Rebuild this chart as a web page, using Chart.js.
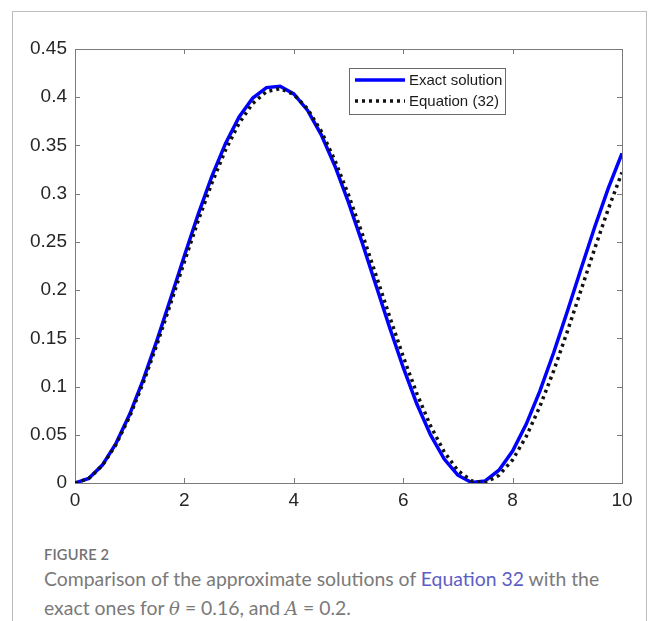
<!DOCTYPE html>
<html>
<head>
<meta charset="utf-8">
<script src="https://cdn.jsdelivr.net/npm/chart.js@4"></script>
<style>
  html, body { margin: 0; padding: 0; background: #fff; }
  body { width: 654px; height: 621px; position: relative; overflow: hidden; }
  .frame { position: absolute; left: 12px; top: 11px; width: 635px; height: 640px;
           border: 1px solid #bdbdbd; border-bottom: none; box-sizing: border-box; }
  #wrap { position: absolute; left: 0; top: 0; width: 654px; height: 530px; }
  .fig { position: absolute; left: 44px; top: 546px; font: 600 14.6px Lato, "Open Sans", sans-serif;
         color: #727272; letter-spacing: 0.2px; }
  .cap { position: absolute; left: 44px; font: 19.4px Lato, "Open Sans", sans-serif; color: #7a7a7a; white-space: nowrap; }
  .cap a { color: #5d5ec4; text-decoration: none; }
  .cap i { font-family: "DejaVu Serif", serif; font-size: 18px; }
</style>
</head>
<body>
<div class="frame"></div>
<div id="wrap"><canvas id="chart" width="654" height="530"></canvas></div>
<div class="fig">FIGURE 2</div>
<div class="cap" style="top:567px">Comparison of the approximate solutions of <a>Equation 32</a> with the</div>
<div class="cap" style="top:596px">exact ones for <i>θ</i> = 0.16, and <i>A</i> = 0.2.</div>

<script>
// time samples (x axis)
const tValues = [0, 0.25, 0.5, 0.75, 1, 1.25, 1.5, 1.75, 2, 2.25, 2.5, 2.75, 3, 3.25, 3.5, 3.75,
  4, 4.25, 4.5, 4.75, 5, 5.25, 5.5, 5.75, 6, 6.25, 6.5, 6.75, 7, 7.25, 7.5, 7.75,
  8, 8.25, 8.5, 8.75, 9, 9.25, 9.5, 9.75, 10];

// exact solution (blue)
const exactValues = [0, 0.0047, 0.0186, 0.0411, 0.0712, 0.1075, 0.1481, 0.1915, 0.2356, 0.2783,
  0.3176, 0.3519, 0.3795, 0.3992, 0.4100, 0.4114, 0.4035, 0.3866, 0.3613, 0.3290,
  0.2910, 0.2491, 0.2053, 0.1615, 0.1198, 0.0819, 0.0498, 0.0248, 0.0081, 0.0005,
  0.0022, 0.0133, 0.0332, 0.0611, 0.0955, 0.1350, 0.1778, 0.2218, 0.2652, 0.3058, 0.3418];

// Equation (32) approximation (black dotted)
const eq32Values = [0, 0.0046, 0.0181, 0.0399, 0.0690, 0.1043, 0.1439, 0.1863, 0.2295, 0.2716,
  0.3106, 0.3450, 0.3731, 0.3936, 0.4058, 0.4089, 0.4029, 0.3881, 0.3650, 0.3348,
  0.2987, 0.2586, 0.2160, 0.1728, 0.1311, 0.0926, 0.0592, 0.0322, 0.0129, 0.0022,
  0.0004, 0.0079, 0.0240, 0.0483, 0.0795, 0.1162, 0.1570, 0.1998, 0.2429, 0.2842, 0.3220];

const seriesLabels = ['Exact solution', 'Equation (32)'];
const xTicks = [0, 2, 4, 6, 8, 10];
const yTicks = [0, 0.05, 0.1, 0.15, 0.2, 0.25, 0.3, 0.35, 0.4, 0.45];

const axisColor = '#7a7a7a';
const tickFont = { family: '"Liberation Sans", Arial, sans-serif', size: 19 };

const toPoints = (ys) => tValues.map((t, i) => ({ x: t, y: ys[i] }));

// box around the axes with inward ticks on all four sides (matlab style)
const axesBox = {
  id: 'axesBox',
  beforeDatasetsDraw(chart) {
    const { ctx, chartArea: a, scales } = chart;
    ctx.save();
    ctx.strokeStyle = axisColor;
    ctx.lineWidth = 1;
    ctx.strokeRect(a.left + 0.5, a.top + 0.5, a.right - a.left, a.bottom - a.top);
    ctx.beginPath();
    const len = 5;
    scales.x.ticks.forEach(tk => {
      const px = Math.round(scales.x.getPixelForValue(tk.value)) + 0.5;
      ctx.moveTo(px, a.bottom); ctx.lineTo(px, a.bottom - len);
      ctx.moveTo(px, a.top); ctx.lineTo(px, a.top + len);
    });
    scales.y.ticks.forEach(tk => {
      const py = Math.round(scales.y.getPixelForValue(tk.value)) + 0.5;
      ctx.moveTo(a.left, py); ctx.lineTo(a.left + len, py);
      ctx.moveTo(a.right, py); ctx.lineTo(a.right - len, py);
    });
    ctx.stroke();
    ctx.restore();
  }
};

// legend box in the upper right of the plot
const boxLegend = {
  id: 'boxLegend',
  afterDatasetsDraw(chart) {
    const { ctx } = chart;
    const x0 = 349, y0 = 68, w = 156, h = 46;
    ctx.save();
    ctx.fillStyle = '#fff';
    ctx.fillRect(x0, y0, w, h);
    ctx.strokeStyle = '#6a6a6a';
    ctx.lineWidth = 1;
    ctx.strokeRect(x0 + 0.5, y0 + 0.5, w, h);
    ctx.font = '15px "Liberation Sans", Arial, sans-serif';
    ctx.textBaseline = 'middle';
    ctx.fillStyle = '#1a1a1a';
    const rows = [y0 + 12, y0 + 33];
    chart.data.datasets.forEach((ds, i) => {
      ctx.beginPath();
      ctx.strokeStyle = ds.borderColor;
      ctx.lineWidth = ds.borderWidth;
      ctx.setLineDash(ds.borderDash || []);
      ctx.moveTo(355, rows[i]);
      ctx.lineTo(405, rows[i]);
      ctx.stroke();
      ctx.setLineDash([]);
      ctx.fillText(ds.label, 409, rows[i] + 1);
    });
    ctx.restore();
  }
};

new Chart(document.getElementById('chart'), {
  type: 'line',
  data: {
    datasets: [
      {
        label: seriesLabels[0],
        data: toPoints(exactValues),
        borderColor: '#0000ff',
        borderWidth: 3.5,
        pointRadius: 0,
        tension: 0,
        order: 2
      },
      {
        label: seriesLabels[1],
        data: toPoints(eq32Values),
        borderColor: '#111111',
        borderWidth: 3.5,
        borderDash: [3, 4],
        pointRadius: 0,
        tension: 0,
        order: 1
      }
    ]
  },
  options: {
    responsive: false,
    animation: false,
    devicePixelRatio: 1,
    layout: { padding: { left: 0, top: 49, right: 32, bottom: 0 } },
    plugins: { legend: { display: false }, tooltip: { enabled: false } },
    scales: {
      x: {
        type: 'linear',
        min: 0,
        max: 10,
        afterBuildTicks: (s) => { s.ticks = xTicks.map(v => ({ value: v })); },
        afterFit: (s) => { s.height = 47; },
        grid: { display: false, drawTicks: false },
        border: { display: false },
        ticks: { color: '#262626', font: tickFont, padding: 6, maxRotation: 0, callback: (v) => String(v) }
      },
      y: {
        type: 'linear',
        min: 0,
        max: 0.45,
        afterBuildTicks: (s) => { s.ticks = yTicks.map(v => ({ value: v })); },
        afterFit: (s) => { s.width = 75; },
        grid: { display: false, drawTicks: false },
        border: { display: false },
        ticks: { color: '#262626', font: tickFont, padding: 8, callback: (v) => String(+v.toFixed(2)) }
      }
    }
  },
  plugins: [axesBox, boxLegend]
});
</script>
</body>
</html>
